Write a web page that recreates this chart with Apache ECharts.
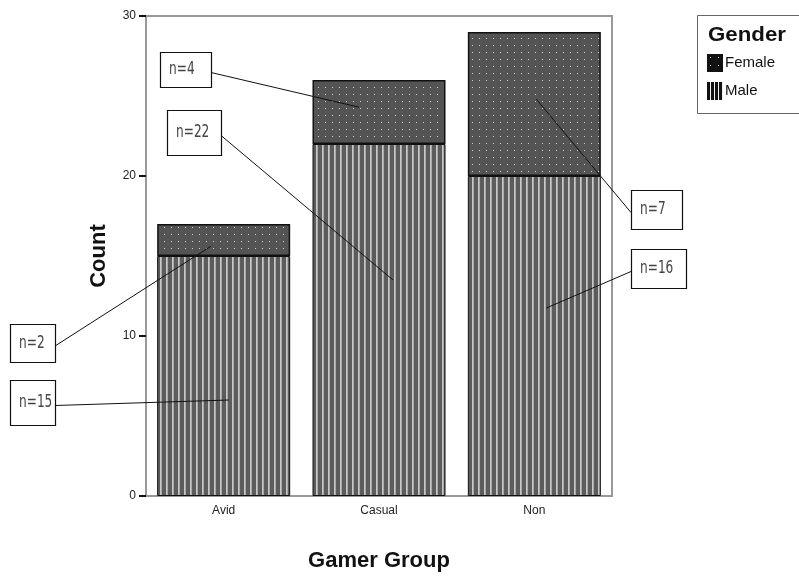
<!DOCTYPE html>
<html>
<head>
  <meta charset="utf-8">
  <title>Gamer Group by Gender</title>
  <script src="https://cdn.jsdelivr.net/npm/echarts@6/dist/echarts.min.js"></script>
  <style type="text/css">
    html, body { margin: 0; background-color: #fff; }
    #main { width: 799px; height: 576px; }
  </style>
</head>
<body>
  <div id="main"></div>
  <script type="text/javascript">
    // data
    var groups = ['Avid', 'Casual', 'Non'];
    var maleCounts = [15, 22, 20];
    var femaleCounts = [2, 4, 9];
    var yTicks = [0, 10, 20, 30];

    // callout boxes: text, target (category index, value, px offset), box in px
    var noteText = ['n=2', 'n=15', 'n=4', 'n=22', 'n=7', 'n=16'];
    var noteCat = [0, 0, 1, 1, 2, 2];
    var noteVal = [15.6, 6, 24.3, 13.5, 24.8, 11.75];
    var noteDx = [-13, 5, -20, 14, 2, 12];
    var noteBox = [[10, 324, 45, 38], [10, 380, 45, 45], [160, 52, 51, 35],
                   [167, 110, 54, 45], [631, 190, 51, 39], [631, 249, 55, 39]];

    function makePattern(w, h, bg, draw) {
      var c = document.createElement('canvas');
      c.width = w; c.height = h;
      var ctx = c.getContext('2d');
      ctx.fillStyle = bg;
      ctx.fillRect(0, 0, w, h);
      draw(ctx);
      return { image: c, repeat: 'repeat' };
    }

    var malePattern = makePattern(6, 4, '#5c5c5c', function (ctx) {
      ctx.fillStyle = '#c8c8c8';
      ctx.fillRect(4, 0, 1.7, 4);
    });
    var femalePattern = makePattern(7, 7, '#545454', function (ctx) {
      ctx.fillStyle = '#cfcfcf';
      ctx.fillRect(3, 3, 1, 1);
    });
    var maleIcon = makePattern(4, 4, '#111', function (ctx) {
      ctx.fillStyle = '#eee';
      ctx.fillRect(3, 0, 1, 4);
    });
    var femaleIcon = makePattern(8, 8, '#111', function (ctx) {
      ctx.fillStyle = '#ddd';
      ctx.fillRect(3, 3, 1, 1);
    });

    var myChart = echarts.init(document.getElementById('main'), null, { renderer: 'canvas' });

    var option = {
      backgroundColor: '#fff',
      animation: false,
      grid: {
        left: 146, top: 16, right: 187, bottom: 80,
        outerBoundsMode: 'none',
        containLabel: false,
        show: true, borderColor: '#999', borderWidth: 2, backgroundColor: 'transparent'
      },
      legend: {
        orient: 'vertical',
        left: 707, top: 54,
        padding: 0,
        itemWidth: 16, itemHeight: 18, itemGap: 10,
        icon: 'rect',
        selectedMode: false,
        textStyle: { fontFamily: 'Liberation Sans, Arial, sans-serif', fontSize: 15, color: '#111', padding: [0, 0, 0, -3] },
        data: [
          { name: 'Female', itemStyle: { color: femaleIcon, borderWidth: 0 } },
          { name: 'Male', itemStyle: { color: maleIcon, borderWidth: 0 } }
        ]
      },
      xAxis: {
        type: 'category',
        data: groups,
        name: 'Gamer Group',
        nameLocation: 'middle',
        nameGap: 54,
        nameTextStyle: { fontFamily: 'Liberation Sans, Arial, sans-serif', fontSize: 22, fontWeight: 'bold', color: '#111' },
        axisLine: { lineStyle: { color: '#999', width: 2 } },
        axisTick: { alignWithLabel: true, length: 7, lineStyle: { color: '#111', width: 2 } },
        axisLabel: { margin: 9, fontFamily: 'Liberation Sans, Arial, sans-serif', fontSize: 12, color: '#222' }
      },
      yAxis: {
        type: 'value',
        min: yTicks[0],
        max: yTicks[yTicks.length - 1],
        interval: 10,
        name: 'Count',
        nameLocation: 'middle',
        nameGap: 36,
        nameTextStyle: { fontFamily: 'Liberation Sans, Arial, sans-serif', fontSize: 22, fontWeight: 'bold', color: '#111' },
        axisLine: { show: true, lineStyle: { color: '#999', width: 2 } },
        axisTick: { show: true, length: 7, lineStyle: { color: '#111', width: 2 } },
        axisLabel: { margin: 10, fontFamily: 'Liberation Sans, Arial, sans-serif', fontSize: 12, color: '#222' },
        splitLine: { show: false }
      },
      series: [{
        name: 'Male',
        type: 'bar',
        stack: 'g',
        barWidth: 133,
        data: maleCounts,
        itemStyle: { color: malePattern, borderColor: '#111', borderWidth: 1 }
      }, {
        name: 'Female',
        type: 'bar',
        stack: 'g',
        barWidth: 133,
        data: femaleCounts,
        itemStyle: { color: femalePattern, borderColor: '#111', borderWidth: 1.5 }
      }]
    };

    myChart.setOption(option);

    // legend frame, title and callouts placed after the axes exist
    var graphics = [{
      type: 'rect',
      shape: { x: 697.5, y: 15.5, width: 110, height: 98 },
      style: { fill: 'none', stroke: '#666', lineWidth: 1 },
      z: 1
    }, {
      type: 'text',
      x: 708, y: 25,
      scaleX: 1.06,
      style: { text: 'Gender', font: 'bold 21px "Liberation Sans", Arial, sans-serif', fill: '#111' },
      z: 10
    }];

    for (var i = 0; i < noteText.length; i++) {
      var p = myChart.convertToPixel({ seriesIndex: 0 }, [noteCat[i], noteVal[i]]);
      var tx = p[0] + noteDx[i];
      var ty = p[1];
      var b = noteBox[i];
      var sx = (tx > b[0] + b[2]) ? b[0] + b[2] : b[0];
      var sy = b[1] + b[3] / 2 + 3;
      graphics.push({
        type: 'line',
        shape: { x1: sx, y1: sy, x2: tx, y2: ty },
        style: { stroke: '#111', lineWidth: 1 },
        z: 20
      });
      graphics.push({
        type: 'rect',
        shape: { x: b[0] + 0.5, y: b[1] + 0.5, width: b[2], height: b[3] },
        style: { fill: '#fff', stroke: '#111', lineWidth: 1.2 },
        z: 21
      });
      graphics.push({
        type: 'text',
        x: b[0] + 9, y: b[1] + b[3] / 2,
        scaleX: 0.75,
        style: {
          text: noteText[i],
          font: '18px "DejaVu Sans Condensed", "Liberation Sans", sans-serif',
          fill: '#444',
          verticalAlign: 'middle'
        },
        z: 22
      });
    }

    myChart.setOption({ graphic: graphics });
  </script>
</body>
</html>
